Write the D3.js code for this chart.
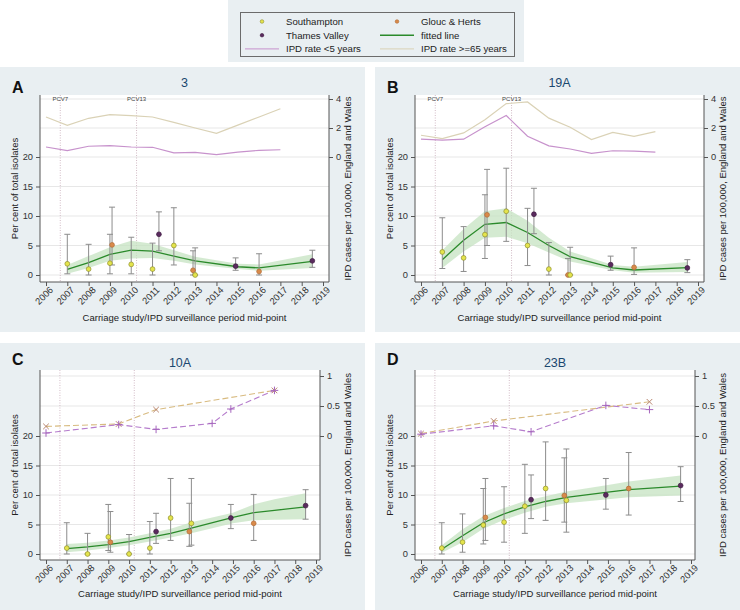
<!DOCTYPE html>
<html>
<head>
<meta charset="utf-8">
<script src="https://cdnjs.cloudflare.com/ajax/libs/d3/7.8.5/d3.min.js"></script>
<style>
body { margin: 0; background: #fff; font-family: "Liberation Sans", Arial, sans-serif; }
</style>
</head>
<body>
<svg id="chart" width="740" height="610"></svg>
<script>
// ---- data ----
const yearTicks = d3.range(2006, 2020);
const vaccines = [{ year: 2006.67, label: "PCV7" }, { year: 2010.25, label: "PCV13" }];

// [mid-point year, per cent, CI low, CI high, site]
const pointsA = [
    [2007, 1.9, 0.2, 6.9, "S"], [2008, 1.0, 0, 5.2, "S"], [2009, 2.0, 0.2, 6.9, "S"],
    [2009.1, 5.1, 1.7, 11.5, "G"], [2010, 1.8, 0.2, 6.4, "S"], [2011, 1.0, 0, 5.4, "S"],
    [2011.3, 6.9, 4.1, 10.7, "T"], [2012, 5.0, 1.7, 11.4, "S"], [2012.9, 0.8, 0, 4.1, "G"],
    [2013, 0, 0, 4.6, "S"], [2014.9, 1.5, 0.8, 2.9, "T"], [2016, 0.6, 0, 3.6, "G"],
    [2018.5, 2.4, 1.3, 4.2, "T"]
];
const pointsB = [
    [2007, 3.9, 1.1, 9.7, "S"], [2008, 2.9, 0.6, 8.2, "S"], [2009, 6.85, 2.8, 13.6, "S"],
    [2009.1, 10.2, 5.0, 17.9, "G"], [2010, 10.8, 5.7, 18.1, "S"], [2011, 5.0, 1.6, 11.3, "S"],
    [2011.3, 10.3, 7.0, 14.7, "T"], [2012, 1.0, 0, 5.5, "S"], [2012.9, 0, 0, 2.8, "G"],
    [2013, 0, 0, 4.7, "S"], [2014.9, 1.75, 0.8, 3.2, "T"], [2016, 1.3, 0.1, 4.6, "G"],
    [2018.5, 1.2, 0.4, 2.6, "T"]
];
const pointsC = [
    [2007, 1.0, 0, 5.3, "S"], [2008, 0, 0, 3.5, "S"], [2009, 2.9, 0.6, 8.4, "S"],
    [2009.1, 2.0, 0.3, 7.2, "G"], [2010, 0, 0, 3.3, "S"], [2011, 1.0, 0, 5.5, "S"],
    [2011.3, 3.8, 1.8, 6.9, "T"], [2012, 6.1, 2.3, 12.8, "S"], [2012.9, 3.8, 1.3, 8.6, "G"],
    [2013, 5.2, 1.5, 12.8, "S"], [2014.9, 6.1, 4.3, 8.4, "T"], [2016, 5.2, 2.3, 10.1, "G"],
    [2018.5, 8.2, 5.9, 10.9, "T"]
];
const pointsD = [
    [2007, 1.0, 0, 5.3, "S"], [2008, 2.0, 0.3, 6.8, "S"], [2009, 4.9, 1.7, 11.1, "S"],
    [2009.1, 6.2, 2.3, 12.8, "G"], [2010, 5.4, 2.0, 11.4, "S"], [2011, 8.1, 3.5, 15.2, "S"],
    [2011.3, 9.2, 6.0, 13.4, "T"], [2012, 11.1, 5.7, 19.0, "S"], [2012.9, 9.9, 5.4, 16.3, "G"],
    [2013, 9.1, 3.7, 17.8, "S"], [2014.9, 10.0, 7.6, 12.8, "T"], [2016, 11.1, 6.6, 17.2, "G"],
    [2018.5, 11.6, 8.9, 14.8, "T"]
];

// [year, fitted, band low, band high]
const fitA = [[2007, 0.95, 0.2, 1.7], [2008, 2.1, 1.2, 3.2], [2009, 3.5, 2.4, 4.7], [2010, 4.2, 2.8, 5.8],
    [2011, 4.05, 2.9, 5.3], [2012, 3.2, 2.4, 4.2], [2013, 2.4, 1.8, 3.1], [2015, 1.4, 1.0, 1.9],
    [2016, 1.2, 0.7, 1.8], [2018.5, 2.3, 1.2, 3.5]];
const fitB = [[2007, 2.6, 1.2, 4.2], [2008, 5.9, 4.0, 7.8], [2009, 8.6, 6.3, 10.8], [2010, 8.9, 6.5, 11.3],
    [2011, 7.2, 5.4, 9.2], [2012, 5.0, 3.8, 6.3], [2013, 3.1, 2.3, 4.0], [2015, 1.2, 0.8, 1.7],
    [2016, 0.85, 0.4, 1.4], [2018.5, 1.25, 0.5, 2.2]];
const fitC = [[2007, 0.9, 0.3, 1.7], [2008, 1.2, 0.6, 1.9], [2009, 1.6, 1.0, 2.3], [2010, 2.1, 1.5, 2.8],
    [2011, 2.8, 2.1, 3.5], [2012, 3.5, 2.8, 4.3], [2013, 4.4, 3.5, 5.4], [2015, 6.2, 5.2, 7.0],
    [2016, 7.0, 5.7, 8.4], [2017, 7.4, 5.8, 9.3], [2018.5, 8.0, 5.9, 10.3]];
const fitD = [[2007, 0.8, 0.2, 1.5], [2008, 3.1, 2.0, 4.2], [2009, 5.3, 4.3, 6.4], [2010, 6.8, 5.8, 7.8],
    [2011, 8.0, 7.0, 9.0], [2012, 8.9, 8.0, 9.8], [2013, 9.6, 8.6, 10.6], [2015, 10.5, 9.3, 11.7],
    [2016, 10.9, 9.6, 12.3], [2018.5, 11.5, 9.9, 13.3]];

// IPD rates per 100,000 (right axis)
const ipdYears = d3.range(2006, 2018);
const ipdU5A = [0.69, 0.44, 0.74, 0.78, 0.69, 0.67, 0.28, 0.32, 0.16, 0.34, 0.46, 0.50];
const ipd65A = [2.76, 2.18, 2.67, 2.92, 2.85, 2.76, 2.39, 2.0, 1.63, 2.2, 2.76, 3.33];
const ipdU5B = [1.23, 1.16, 1.23, 2.09, 2.86, 1.43, 0.77, 0.55, 0.25, 0.43, 0.41, 0.34];
const ipd65B = [1.5, 1.27, 1.66, 2.57, 3.68, 3.8, 2.68, 2.05, 1.2, 1.7, 1.43, 1.75];
const ipdU5C = [[2006, 0.05], [2009.5, 0.19], [2011.3, 0.11], [2014, 0.21], [2014.9, 0.45], [2017, 0.76]];
const ipd65C = [[2006, 0.16], [2009.5, 0.2], [2011.3, 0.44], [2017, 0.76]];
const ipdU5D = [[2006, 0.03], [2009.5, 0.17], [2011.3, 0.07], [2014.9, 0.51], [2017, 0.44]];
const ipd65D = [[2006, 0.04], [2009.5, 0.25], [2017, 0.57]];

const sites = {
    S: { name: "Southampton", fill: "#e4e44c", stroke: "#8f8f2e" },
    G: { name: "Glouc & Herts", fill: "#d98a4a", stroke: "#b06c36" },
    T: { name: "Thames Valley", fill: "#5a2a5e", stroke: "#3e1a40" }
};
const col = {
    panel: "#e9eff2", fit: "#2b8a2b", band: "#c5e3c1", u5: "#c792cc", o65: "#dad2b6",
    u5dash: "#b57ccc", o65dash: "#d8bb80", xMark: "#b98670", bar: "#8c8c8c", title: "#1a476f"
};

const panels = [
    { letter: "A", title: "3", x: 0, y: 67, w: 365, h: 265, pts: pointsA, fit: fitA,
      u5: ipdYears.map((y, i) => [y, ipdU5A[i]]), o65: ipdYears.map((y, i) => [y, ipd65A[i]]), dashed: false },
    { letter: "B", title: "19A", x: 375, y: 67, w: 365, h: 265, pts: pointsB, fit: fitB,
      u5: ipdYears.map((y, i) => [y, ipdU5B[i]]), o65: ipdYears.map((y, i) => [y, ipd65B[i]]), dashed: false },
    { letter: "C", title: "10A", x: 0, y: 343, w: 365, h: 267, pts: pointsC, fit: fitC,
      u5: ipdU5C, o65: ipd65C, dashed: true },
    { letter: "D", title: "23B", x: 375, y: 343, w: 365, h: 267, pts: pointsD, fit: fitD,
      u5: ipdU5D, o65: ipd65D, dashed: true }
];

const svg = d3.select("#chart");

// ---- legend ----
svg.append("rect").attr("x", 228).attr("y", 0).attr("width", 296).attr("height", 62).attr("fill", col.panel);
svg.append("rect").attr("x", 240.5).attr("y", 12.5).attr("width", 274).attr("height", 44)
    .attr("fill", col.panel).attr("stroke", "#6b6b6b");
const legendRows = [
    [{ type: "pt", site: "S", x: 262, tx: 286 }, { type: "pt", site: "G", x: 397, tx: 421 }],
    [{ type: "pt", site: "T", x: 262, tx: 286 }, { type: "line", color: col.fit, w: 1.4, x: 397, tx: 421, text: "fitted line" }],
    [{ type: "line", color: col.u5, w: 1, x: 262, tx: 286, text: "IPD rate <5 years" },
     { type: "line", color: col.o65, w: 1, x: 397, tx: 421, text: "IPD rate >=65 years" }]
];
legendRows.forEach((row, r) => {
    const y = 21.5 + r * 13.7;
    row.forEach(it => {
        if (it.type === "pt") {
            svg.append("circle").attr("cx", it.x).attr("cy", y).attr("r", 1.8)
                .attr("fill", sites[it.site].fill).attr("stroke", sites[it.site].stroke).attr("stroke-width", 0.6);
        } else {
            svg.append("line").attr("x1", it.x - 17).attr("x2", it.x + 17).attr("y1", y).attr("y2", y)
                .attr("stroke", it.color).attr("stroke-width", it.w);
        }
        svg.append("text").attr("x", it.tx).attr("y", y + 3.4).attr("font-size", 9.6).attr("fill", "#222")
            .text(it.text || sites[it.site].name);
    });
});

// ---- panels ----
const crossPath = (s) => `M${-s},0H${s}M0,${-s}V${s}`;
const timesPath = (s) => `M${-s},${-s}L${s},${s}M${-s},${s}L${s},${-s}`;

panels.forEach(p => {
    const top = p.dashed ? 27 : 28;
    const bottom = p.dashed ? 217 : 215;
    const left = 40;
    const right = p.dashed ? 320 : 329;

    const g = svg.append("g").attr("transform", `translate(${p.x},${p.y})`);
    g.append("rect").attr("width", p.w).attr("height", p.h).attr("fill", col.panel);
    g.append("rect").attr("x", left).attr("y", top).attr("width", right - left).attr("height", bottom - top).attr("fill", "#fff");

    const x = d3.scaleLinear().domain([2006, 2019]).range([46, p.dashed ? 316 : 323]);
    const y = d3.scaleLinear().domain([0, 20]).range(p.dashed ? [211, 93] : [208, 90]);
    const yR = p.dashed
        ? d3.scaleLinear().domain([0, 1]).range([93, 33])
        : d3.scaleLinear().domain([0, 4]).range([90, 32]);
    const rTicks = p.dashed ? [0, 0.5, 1] : [0, 2, 4];
    const lTicks = [0, 5, 10, 15, 20];

    // gridlines
    const grid = g.append("g").attr("stroke", "#e7e7e7").attr("stroke-width", 1);
    lTicks.forEach(t => grid.append("line").attr("x1", left).attr("x2", right).attr("y1", y(t)).attr("y2", y(t)));
    rTicks.slice(1).forEach(t => grid.append("line").attr("x1", left).attr("x2", right).attr("y1", yR(t)).attr("y2", yR(t)));

    // vaccine introduction lines
    vaccines.forEach(v => {
        g.append("line").attr("x1", x(v.year)).attr("x2", x(v.year)).attr("y1", top).attr("y2", bottom)
            .attr("stroke", "#cdb3c0").attr("stroke-width", 0.9).attr("stroke-dasharray", "1,1.5");
        if (!p.dashed) {
            g.append("text").attr("x", x(v.year)).attr("y", top + 6).attr("text-anchor", "middle")
                .attr("font-size", 6).attr("fill", "#444").text(v.label);
        }
    });

    // IPD rate lines
    const ipdLine = d3.line().x(d => x(d[0])).y(d => yR(d[1]));
    if (!p.dashed) {
        g.append("path").datum(p.o65).attr("d", ipdLine).attr("fill", "none").attr("stroke", col.o65).attr("stroke-width", 1.2);
        g.append("path").datum(p.u5).attr("d", ipdLine).attr("fill", "none").attr("stroke", col.u5).attr("stroke-width", 1.2);
    } else {
        g.append("path").datum(p.o65).attr("d", ipdLine).attr("fill", "none").attr("stroke", col.o65dash)
            .attr("stroke-width", 1.1).attr("stroke-dasharray", "6,3");
        g.append("path").datum(p.u5).attr("d", ipdLine).attr("fill", "none").attr("stroke", col.u5dash)
            .attr("stroke-width", 1.1).attr("stroke-dasharray", "6,3");
        g.selectAll(".xm").data(p.o65).enter().append("path")
            .attr("transform", d => `translate(${x(d[0])},${yR(d[1])})`)
            .attr("d", timesPath(2.8)).attr("stroke", col.xMark).attr("stroke-width", 1).attr("fill", "none");
        g.selectAll(".pm").data(p.u5).enter().append("path")
            .attr("transform", d => `translate(${x(d[0])},${yR(d[1])})`)
            .attr("d", crossPath(3.8)).attr("stroke", "#a565bd").attr("stroke-width", 1).attr("fill", "none");
    }

    // confidence band and fitted line
    g.append("path").datum(p.fit)
        .attr("d", d3.area().x(d => x(d[0])).y0(d => y(d[2])).y1(d => y(d[3])))
        .attr("fill", col.band).attr("fill-opacity", 0.75);
    g.append("path").datum(p.fit)
        .attr("d", d3.line().x(d => x(d[0])).y(d => y(d[1])))
        .attr("fill", "none").attr("stroke", col.fit).attr("stroke-width", 1.3);

    // error bars
    const bars = g.append("g").attr("stroke", col.bar).attr("stroke-width", 1);
    p.pts.forEach(d => {
        const cx = x(d[0]);
        bars.append("line").attr("x1", cx).attr("x2", cx).attr("y1", y(d[2])).attr("y2", y(d[3]));
        bars.append("line").attr("x1", cx - 3).attr("x2", cx + 3).attr("y1", y(d[2])).attr("y2", y(d[2]));
        bars.append("line").attr("x1", cx - 3).attr("x2", cx + 3).attr("y1", y(d[3])).attr("y2", y(d[3]));
    });
    g.selectAll(".pt").data(p.pts).enter().append("circle")
        .attr("cx", d => x(d[0])).attr("cy", d => y(d[1])).attr("r", 2.4)
        .attr("fill", d => sites[d[4]].fill).attr("stroke", d => sites[d[4]].stroke).attr("stroke-width", 0.7);

    // axes
    const axisCol = "#555";
    const ax = g.append("g").attr("transform", `translate(0,${bottom})`)
        .call(d3.axisBottom(x).tickValues(yearTicks).tickFormat(d3.format("d")).tickSize(4).tickSizeOuter(0));
    ax.select(".domain").remove();
    ax.selectAll("text").attr("transform", "rotate(-45)").attr("text-anchor", "end")
        .attr("dx", "-0.1em").attr("dy", "0.55em").attr("y", 6).attr("x", 0);
    const ay = g.append("g").attr("transform", `translate(${left},0)`)
        .call(d3.axisLeft(y).tickValues(lTicks).tickSize(4).tickPadding(3));
    ay.select(".domain").remove();
    const ar = g.append("g").attr("transform", `translate(${right},0)`)
        .call(d3.axisRight(yR).tickValues(rTicks).tickFormat(d => d).tickSize(4).tickPadding(3));
    ar.select(".domain").remove();
    [ax, ay, ar].forEach(a => {
        a.selectAll("line").attr("stroke", axisCol);
        a.selectAll("text").attr("font-size", 9.3).attr("fill", "#333").attr("font-family", "Liberation Sans, Arial, sans-serif");
    });
    g.append("path").attr("d", `M${left},${top}V${bottom}H${right}V${top}`)
        .attr("fill", "none").attr("stroke", axisCol).attr("stroke-width", 1);

    // titles
    g.append("text").attr("x", (left + right) / 2).attr("y", 254).attr("text-anchor", "middle")
        .attr("font-size", 9.5).attr("fill", "#222").text("Carriage study/IPD surveillance period mid-point");
    g.append("text").attr("transform", `translate(18,${(top + bottom) / 2}) rotate(-90)`).attr("text-anchor", "middle")
        .attr("font-size", 9.5).attr("fill", "#222").text("Per cent of total isolates");
    g.append("text").attr("transform", `translate(351,${(top + bottom) / 2}) rotate(-90)`).attr("text-anchor", "middle")
        .attr("font-size", 9.5).attr("fill", "#222").text("IPD cases per 100,000, England and Wales");
    g.append("text").attr("x", (left + right) / 2).attr("y", p.dashed ? 24 : 20).attr("text-anchor", "middle")
        .attr("font-size", 12.5).attr("fill", col.title).text(p.title);
    g.append("text").attr("x", 12).attr("y", p.dashed ? 22 : 26).attr("font-size", 16).attr("font-weight", "bold")
        .attr("fill", "#111").text(p.letter);
});
</script>
</body>
</html>
